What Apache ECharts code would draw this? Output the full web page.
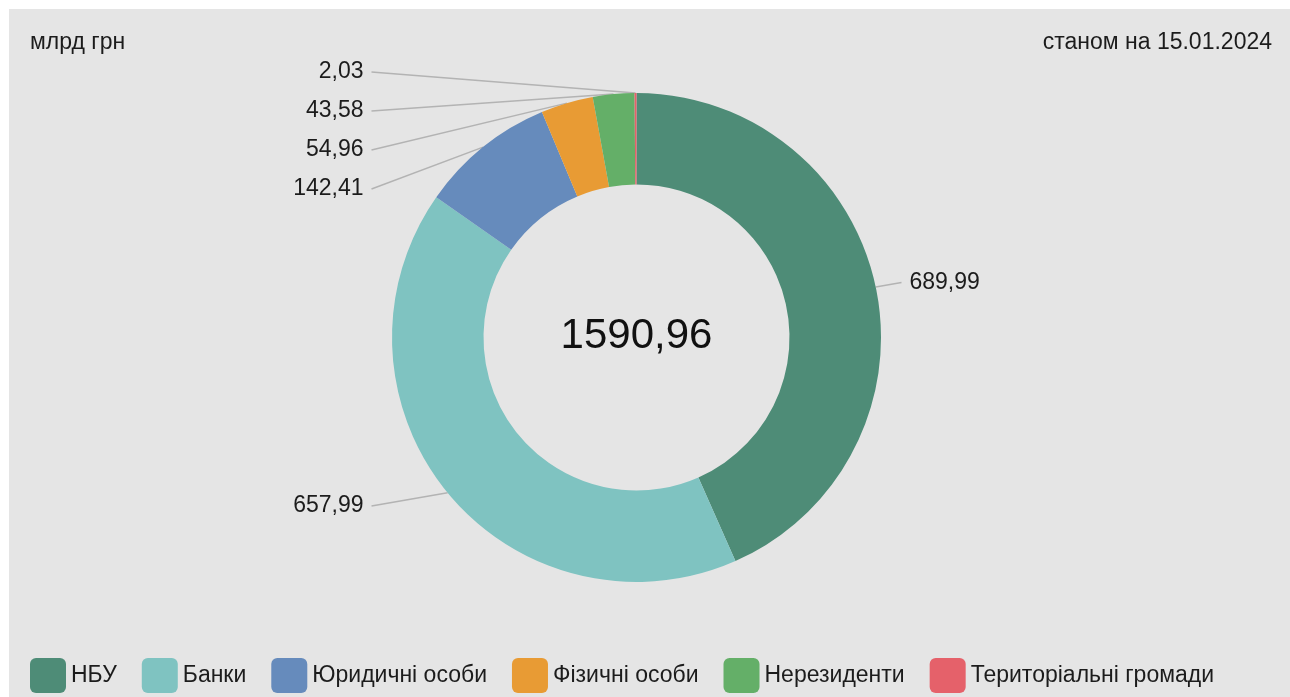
<!DOCTYPE html>
<html>
<head>
<meta charset="utf-8">
<script src="https://cdn.jsdelivr.net/npm/echarts@6/dist/echarts.min.js"></script>
<style>
  html, body { margin: 0; padding: 0; background: #ffffff; }
  #chart { position: absolute; left: 9px; top: 9px; width: 1281px; height: 688px; }
</style>
</head>
<body>
<div id="chart"></div>
<script>
// Структура державного боргу за власниками, млрд грн
const categories = ['НБУ', 'Банки', 'Юридичні особи', 'Фізичні особи', 'Нерезиденти', 'Територіальні громади'];
const values = [689.99, 657.99, 142.41, 54.96, 43.58, 2.03];
const colors = ['#4e8c77', '#7fc3c1', '#668bbc', '#e89b34', '#64af68', '#e5616a'];
const unitLabel = 'млрд грн';
const dateLabel = 'станом на 15.01.2024';

const FONT = '"Liberation Sans", Arial, sans-serif';
const TEXT_COLOR = '#1c1c1c';
const PIE_CENTER = [627.5, 328.5];
const PIE_RADIUS = [153, 244.5];
const LABEL_OFFSET = 273;   // distance from the centre to the label column
const LINE_GAP = 8;         // gap between a label and its leader line

const fmt = v => v.toFixed(2).replace('.', ',');
const total = values.reduce((a, b) => a + b, 0);

const chart = echarts.init(document.getElementById('chart'), null, { renderer: 'canvas' });

chart.setOption({
  animation: false,
  backgroundColor: '#e5e5e5',
  textStyle: { fontFamily: FONT, color: TEXT_COLOR },
  title: [
    { text: unitLabel, left: 21, top: 22, padding: 0,
      textStyle: { fontFamily: FONT, fontSize: 23, fontWeight: 'normal', color: TEXT_COLOR } },
    { text: dateLabel, right: 18, top: 22, padding: 0,
      textStyle: { fontFamily: FONT, fontSize: 23, fontWeight: 'normal', color: TEXT_COLOR } }
  ],
  graphic: [{
    type: 'text',
    x: PIE_CENTER[0], y: PIE_CENTER[1] - 1,
    style: { text: fmt(total), align: 'center', verticalAlign: 'middle',
             font: '42px ' + FONT, fill: '#111111' },
    silent: true
  }],
  legend: {
    left: 21, top: 649, padding: 0,
    itemWidth: 36, itemHeight: 35, itemGap: 25,
    icon: 'path://M6,0H30A6,6,0,0,1,36,6V29A6,6,0,0,1,30,35H6A6,6,0,0,1,0,29V6A6,6,0,0,1,6,0Z',
    textStyle: { fontFamily: FONT, fontSize: 23, color: TEXT_COLOR },
    data: categories
  },
  series: [{
    type: 'pie',
    center: PIE_CENTER,
    radius: PIE_RADIUS,
    startAngle: 90,
    clockwise: true,
    avoidLabelOverlap: true,
    color: colors,
    data: categories.map((name, i) => ({ name, value: values[i] })),
    label: {
      show: true,
      position: 'outside',
      formatter: p => fmt(p.value),
      fontFamily: FONT,
      fontSize: 23,
      lineHeight: 37,
      color: TEXT_COLOR,
      distanceToLabelLine: 8
    },
    labelLine: {
      show: true,
      length: 21,
      length2: 0,
      lineStyle: { color: '#b3b3b3', width: 1.5 }
    },
    labelLayout: function (params) {
      const pts = params.labelLinePoints;
      if (!pts) return {};
      const start = pts[0];
      const isLeft = start[0] < PIE_CENTER[0];
      const y = params.labelRect.y + params.labelRect.height / 2;
      const x = isLeft ? PIE_CENTER[0] - LABEL_OFFSET : PIE_CENTER[0] + LABEL_OFFSET;
      const end = [isLeft ? x + LINE_GAP : x - LINE_GAP, y];
      return {
        x: x,
        y: y,
        align: isLeft ? 'right' : 'left',
        verticalAlign: 'middle',
        labelLinePoints: [start, end, end]
      };
    },
    emphasis: { disabled: true }
  }]
});
</script>
</body>
</html>
